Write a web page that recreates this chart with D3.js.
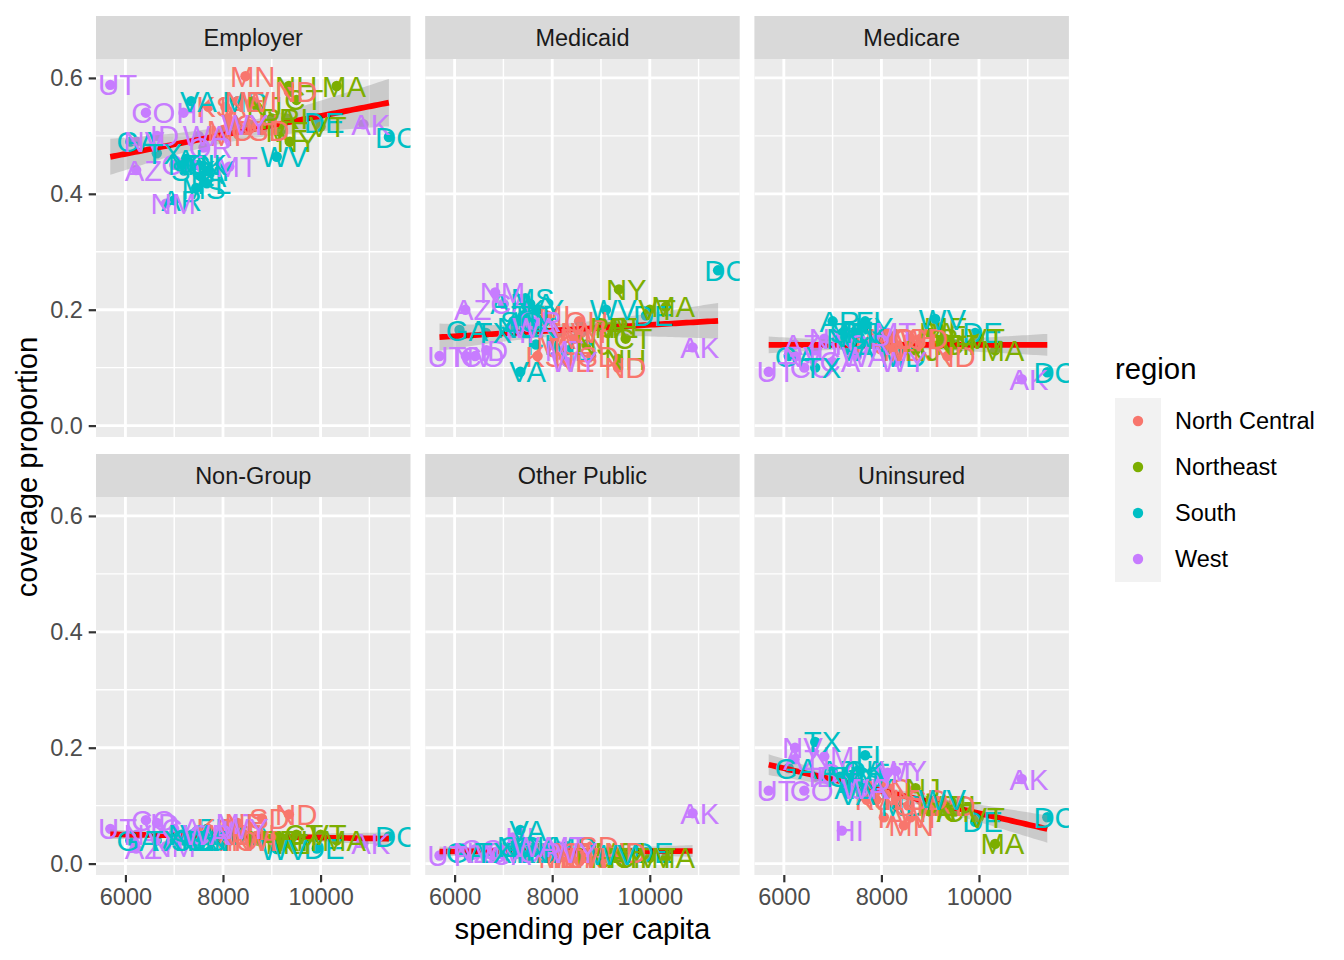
<!DOCTYPE html>
<html><head><meta charset="utf-8">
<script src="https://cdn.jsdelivr.net/npm/d3@7"></script>
<style>
body{margin:0;background:#fff}
text{font-family:"Liberation Sans", Arial, Helvetica, sans-serif}
</style>
</head><body><svg id="c" width="1344" height="960"></svg>
<script>
// ---------------- data ----------------
const types = ["Employer","Medicaid","Medicare","Non-Group","Other Public","Uninsured"];
const regionNames = ["North Central","Northeast","South","West"];
const regionColors = ["#F8766D","#7CAE00","#00BFC4","#C77CFF"];
const xTicks = [6000, 8000, 10000];
const xMinor = [7000, 9000, 11000];
const yTicks = [0, 0.2, 0.4, 0.6];
const yMinor = [0.1, 0.3, 0.5];

const states  = ["AL","AK","AZ","AR","CA","CO","CT","DE","DC","FL","GA","HI","ID","IL","IN","IA","KS","KY","LA","ME","MD","MA","MI","MN","MS","MO","MT","NE","NV","NH","NJ","NM","NY","NC","ND","OH","OK","OR","PA","RI","SC","SD","TN","TX","UT","VT","VA","WA","WV","WI","WY"];
const region  = ["South","West","West","South","West","West","Northeast","South","South","South","South","West","West","North Central","North Central","North Central","North Central","South","South","Northeast","South","Northeast","North Central","North Central","South","North Central","West","North Central","West","Northeast","Northeast","West","Northeast","South","North Central","North Central","South","West","Northeast","Northeast","South","North Central","South","South","West","Northeast","South","West","South","North Central","West"];
const spending = [7250,10877,6220,7000,7000,6420,9506,9922,11400,7668,6100,7190,6650,8100,8150,8050,7700,7700,7550,9170,8300,10330,7900,8460,7450,8000,8130,8300,6230,9350,8700,6830,9369,7150,9350,8550,7500,7600,9000,9300,7200,8800,7400,6643,5690,10000,7346,7500,9102,8600,8300];
const employer   = [.46,.52,.441,.389,.45,.54,.562,.524,.498,.418,.49,.54,.50,.53,.52,.55,.55,.44,.43,.507,.56,.586,.50,.603,.41,.51,.447,.56,.49,.586,.55,.383,.49,.45,.576,.52,.45,.48,.53,.53,.44,.51,.45,.47,.588,.516,.56,.50,.464,.56,.52];
const medicaid   = [.18,.135,.20,.21,.21,.12,.15,.19,.268,.14,.165,.16,.13,.16,.16,.15,.12,.20,.21,.17,.13,.205,.19,.15,.22,.14,.13,.11,.12,.115,.14,.23,.235,.17,.10,.18,.17,.18,.17,.17,.18,.12,.19,.16,.12,.20,.093,.17,.20,.16,.11];
const medicare   = [.16,.08,.14,.18,.11,.10,.14,.16,.092,.18,.12,.14,.13,.13,.14,.15,.14,.17,.14,.17,.12,.13,.15,.13,.16,.15,.16,.13,.12,.14,.13,.15,.14,.15,.12,.15,.15,.14,.16,.15,.16,.15,.16,.10,.093,.15,.13,.12,.184,.15,.11];
const nonGroup   = [.04,.035,.026,.04,.06,.075,.05,.026,.047,.06,.04,.04,.07,.05,.04,.06,.06,.04,.04,.035,.05,.04,.04,.05,.04,.05,.07,.07,.05,.04,.04,.03,.035,.05,.085,.04,.04,.05,.04,.04,.04,.078,.04,.04,.06,.05,.05,.05,.025,.04,.06];
// DC has no "Other Public" value in the reference
const otherPublic= [.03,.087,.02,.02,.015,.025,.01,.02,null,.02,.02,.045,.02,.01,.015,.01,.02,.02,.02,.02,.03,.01,.01,.01,.02,.02,.03,.02,.02,.02,.01,.02,.01,.03,.02,.01,.03,.02,.01,.01,.03,.03,.02,.02,.014,.01,.058,.03,.015,.01,.02];
const uninsured  = [.13,.146,.18,.16,.155,.126,.09,.072,.08,.187,.165,.057,.15,.12,.13,.08,.11,.13,.16,.10,.10,.034,.11,.066,.15,.13,.157,.11,.20,.10,.13,.185,.09,.15,.10,.10,.16,.13,.09,.10,.15,.11,.14,.21,.126,.08,.12,.13,.11,.08,.16];
const coverage = [employer, medicaid, medicare, nonGroup, otherPublic, uninsured];
const nudgeX = 150;

// ---------------- layout ----------------
const svg = d3.select("#c");
const colX = [96, 425.2, 754.4], pw = 314.5;
const rowY = [59, 497], ph = 378, stripH = 43;
const color = d3.scaleOrdinal().domain(regionNames).range(regionColors);

const allY = coverage.flat().filter(v => v != null);
const yMin = d3.min(allY), yMax = d3.max(allY);
const yPad = (yMax - yMin) * 0.05;
const y = d3.scaleLinear().domain([yMin - yPad, yMax + yPad]).range([ph, 0]);
const xMin = d3.min(spending), xMax = d3.max(spending) + nudgeX;
const xPad = (xMax - xMin) * 0.05;
const x = d3.scaleLinear().domain([xMin - xPad, xMax + xPad]).range([0, pw]);

const tcrit = 2.0096; // qt(0.975, ~49)

types.forEach((t, i) => {
  const col = i % 3, row = Math.floor(i / 3);
  const g = svg.append("g").attr("transform", `translate(${colX[col]},${rowY[row]})`);
  // strip
  svg.append("rect").attr("x", colX[col]).attr("y", rowY[row] - stripH).attr("width", pw).attr("height", stripH).attr("fill", "#D9D9D9");
  svg.append("text").attr("x", colX[col] + pw / 2).attr("y", rowY[row] - stripH / 2).attr("dy", "0.36em")
    .attr("text-anchor", "middle").attr("font-size", 23.5).attr("fill", "#1A1A1A").text(t);
  // panel
  g.append("rect").attr("width", pw).attr("height", ph).attr("fill", "#EBEBEB");
  const clipId = "clip" + i;
  g.append("clipPath").attr("id", clipId).append("rect").attr("width", pw).attr("height", ph);
  const inner = g.append("g").attr("clip-path", `url(#${clipId})`);
  inner.selectAll(".ym").data(yMinor).join("line").attr("x1", 0).attr("x2", pw).attr("y1", d => y(d)).attr("y2", d => y(d)).attr("stroke", "#fff").attr("stroke-width", 1.42);
  inner.selectAll(".xm").data(xMinor).join("line").attr("y1", 0).attr("y2", ph).attr("x1", d => x(d)).attr("x2", d => x(d)).attr("stroke", "#fff").attr("stroke-width", 1.42);
  inner.selectAll(".yM").data(yTicks).join("line").attr("x1", 0).attr("x2", pw).attr("y1", d => y(d)).attr("y2", d => y(d)).attr("stroke", "#fff").attr("stroke-width", 2.85);
  inner.selectAll(".xM").data(xTicks).join("line").attr("y1", 0).attr("y2", ph).attr("x1", d => x(d)).attr("x2", d => x(d)).attr("stroke", "#fff").attr("stroke-width", 2.85);

  const vals = coverage[i];
  const pts = states.map((s, k) => ({s, r: region[k], x: spending[k], y: vals[k]})).filter(d => d.y != null);

  // points
  inner.selectAll("circle.p").data(pts).join("circle").attr("cx", d => x(d.x)).attr("cy", d => y(d.y)).attr("r", 5.2).attr("fill", d => color(d.r));

  // linear fit with 95% CI
  const n = pts.length;
  const mx = d3.mean(pts, d => d.x), my = d3.mean(pts, d => d.y);
  const sxx = d3.sum(pts, d => (d.x - mx) ** 2);
  const sxy = d3.sum(pts, d => (d.x - mx) * (d.y - my));
  const b = sxy / sxx, a = my - b * mx;
  const sse = d3.sum(pts, d => (d.y - (a + b * d.x)) ** 2);
  const s = Math.sqrt(sse / (n - 2));
  const x0 = d3.min(pts, d => d.x), x1 = d3.max(pts, d => d.x);
  const grid = d3.range(80).map(k => x0 + (x1 - x0) * k / 79);
  const fit = grid.map(xx => {
    const yy = a + b * xx;
    const se = s * Math.sqrt(1 / n + (xx - mx) ** 2 / sxx);
    return {x: xx, y: yy, lo: yy - tcrit * se, hi: yy + tcrit * se};
  });
  inner.append("path").datum(fit).attr("fill", "#999999").attr("fill-opacity", 0.4)
    .attr("d", d3.area().x(d => x(d.x)).y0(d => y(d.lo)).y1(d => y(d.hi)));
  inner.append("path").datum(fit).attr("fill", "none").attr("stroke", "red").attr("stroke-width", 5.7)
    .attr("d", d3.line().x(d => x(d.x)).y(d => y(d.y)));

  // labels
  inner.selectAll("text.l").data(pts).join("text").attr("x", d => x(d.x + nudgeX)).attr("y", d => y(d.y)).attr("dy", "0.36em")
    .attr("text-anchor", "middle").attr("font-size", 29.3).attr("fill", d => color(d.r)).text(d => d.s);

  // axes
  if (col === 0) {
    const ya = g.append("g").call(d3.axisLeft(y).tickValues(yTicks).tickFormat(d3.format(".1f")).tickSize(7.3).tickPadding(5.9));
    ya.select(".domain").remove();
    ya.selectAll("line").attr("stroke", "#333333").attr("stroke-width", 2.2);
    ya.selectAll("text").attr("font-size", 23.5).attr("fill", "#4D4D4D").attr("font-family", "Liberation Sans, Arial, sans-serif");
  }
  if (row === 1) {
    const xa = g.append("g").attr("transform", `translate(0,${ph})`).call(d3.axisBottom(x).tickValues(xTicks).tickFormat(d3.format("d")).tickSize(7.3).tickPadding(5.9));
    xa.select(".domain").remove();
    xa.selectAll("line").attr("stroke", "#333333").attr("stroke-width", 2.2);
    xa.selectAll("text").attr("font-size", 23.5).attr("fill", "#4D4D4D").attr("font-family", "Liberation Sans, Arial, sans-serif");
  }
});

// axis titles
svg.append("text").attr("x", (colX[0] + colX[2] + pw) / 2).attr("y", 939).attr("text-anchor", "middle").attr("font-size", 29.3).attr("fill", "#000").text("spending per capita");
svg.append("text").attr("transform", `translate(37,${(rowY[0] + rowY[1] + ph) / 2}) rotate(-90)`).attr("text-anchor", "middle").attr("font-size", 29.3).attr("fill", "#000").text("coverage proportion");

// legend
const lg = svg.append("g").attr("transform", "translate(1115,0)");
lg.append("text").attr("x", 0).attr("y", 379).attr("font-size", 29.3).attr("fill", "#000").text("region");
regionNames.forEach((r, k) => {
  const cy = 421 + k * 46;
  lg.append("rect").attr("x", 0).attr("y", cy - 23).attr("width", 46).attr("height", 46).attr("fill", "#F2F2F2");
  lg.append("circle").attr("cx", 23).attr("cy", cy).attr("r", 5.2).attr("fill", color(r));
  lg.append("text").attr("x", 60).attr("y", cy).attr("dy", "0.36em").attr("font-size", 23.5).attr("fill", "#000").text(r);
});
</script>
</body></html>
